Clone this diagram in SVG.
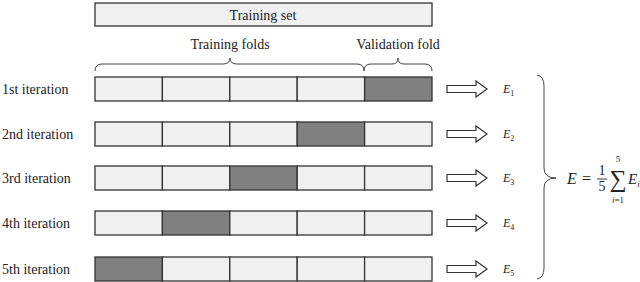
<svg xmlns="http://www.w3.org/2000/svg" width="640" height="282" viewBox="0 0 640 282">
<style>
text{font-family:"Times New Roman",Liberation Serif,"DejaVu Serif",serif;fill:#222}
.lbl{font-size:14px}
.cell{fill:#f0f0f0;stroke:#333;stroke-width:1.3}
.dark{fill:#808080;stroke:#333;stroke-width:1.3}
.br{fill:none;stroke:#444;stroke-width:1}
.arr{fill:#fff;stroke:#333;stroke-width:1.2}
.ei{font-size:12px;font-style:italic}
.sub{font-size:8px;font-style:normal}
</style>
<rect width="640" height="282" fill="#fff"/>
<g id="training-set">
<rect x="95" y="3" width="337" height="23" class="cell"/>
<text x="263" y="19.5" text-anchor="middle" class="lbl">Training set</text>
</g>
<g id="training-folds">
<text x="230" y="49" text-anchor="middle" class="lbl">Training folds</text>
<path class="br" d="M95,71 Q95,64 102,64 L223,64 Q230,64 230,58 Q230,64 237,64 L357,64 Q364,64 364,71"/>
</g>
<g id="validation-fold">
<text x="398" y="49" text-anchor="middle" class="lbl">Validation fold</text>
<path class="br" d="M364,71 Q364,64 371,64 L392,64 Q398,64 398,58 Q398,64 404,64 L425,64 Q432,64 432,71"/>
</g>
<g id="iter1">
<text x="2" y="94" class="lbl">1st iteration</text>
<rect x="95" y="77" width="67.4" height="24" class="cell"/>
<rect x="162.4" y="77" width="67.4" height="24" class="cell"/>
<rect x="229.8" y="77" width="67.4" height="24" class="cell"/>
<rect x="297.2" y="77" width="67.4" height="24" class="cell"/>
<rect x="364.6" y="77" width="67.4" height="24" class="dark"/>
</g>
<g id="iter2">
<text x="2" y="139" class="lbl">2nd iteration</text>
<rect x="95" y="122" width="67.4" height="24" class="cell"/>
<rect x="162.4" y="122" width="67.4" height="24" class="cell"/>
<rect x="229.8" y="122" width="67.4" height="24" class="cell"/>
<rect x="297.2" y="122" width="67.4" height="24" class="dark"/>
<rect x="364.6" y="122" width="67.4" height="24" class="cell"/>
</g>
<g id="iter3">
<text x="2" y="183" class="lbl">3rd iteration</text>
<rect x="95" y="166" width="67.4" height="24" class="cell"/>
<rect x="162.4" y="166" width="67.4" height="24" class="cell"/>
<rect x="229.8" y="166" width="67.4" height="24" class="dark"/>
<rect x="297.2" y="166" width="67.4" height="24" class="cell"/>
<rect x="364.6" y="166" width="67.4" height="24" class="cell"/>
</g>
<g id="iter4">
<text x="2" y="228" class="lbl">4th iteration</text>
<rect x="95" y="211" width="67.4" height="24" class="cell"/>
<rect x="162.4" y="211" width="67.4" height="24" class="dark"/>
<rect x="229.8" y="211" width="67.4" height="24" class="cell"/>
<rect x="297.2" y="211" width="67.4" height="24" class="cell"/>
<rect x="364.6" y="211" width="67.4" height="24" class="cell"/>
</g>
<g id="iter5">
<text x="2" y="274" class="lbl">5th iteration</text>
<rect x="95" y="257" width="67.4" height="24" class="dark"/>
<rect x="162.4" y="257" width="67.4" height="24" class="cell"/>
<rect x="229.8" y="257" width="67.4" height="24" class="cell"/>
<rect x="297.2" y="257" width="67.4" height="24" class="cell"/>
<rect x="364.6" y="257" width="67.4" height="24" class="cell"/>
</g>
<g id="connectors">
<polygon class="arr" points="447,85.5 476,85.5 476,81 487,89 476,97 476,92.5 447,92.5"/>
<polygon class="arr" points="447,130.5 476,130.5 476,126 487,134 476,142 476,137.5 447,137.5"/>
<polygon class="arr" points="447,174.5 476,174.5 476,170 487,178 476,186 476,181.5 447,181.5"/>
<polygon class="arr" points="447,219.5 476,219.5 476,215 487,223 476,231 476,226.5 447,226.5"/>
<polygon class="arr" points="447,265.5 476,265.5 476,261 487,269 476,277 476,272.5 447,272.5"/>
</g>
<g id="errors">
<text x="503" y="93" class="ei">E<tspan class="sub" dy="3">1</tspan></text>
<text x="503" y="138" class="ei">E<tspan class="sub" dy="3">2</tspan></text>
<text x="503" y="182" class="ei">E<tspan class="sub" dy="3">3</tspan></text>
<text x="503" y="227" class="ei">E<tspan class="sub" dy="3">4</tspan></text>
<text x="503" y="273" class="ei">E<tspan class="sub" dy="3">5</tspan></text>
</g>
<g id="average">
<path class="br" d="M537,75 Q544,76 544,86 L544,168 Q544,178 556,178 Q544,178 544,188 L544,268 Q544,278 537,279"/>
<text x="567" y="184" style="font-size:16px;font-style:italic">E</text>
<text x="582" y="184" style="font-size:16px">=</text>
<text x="602" y="175" text-anchor="middle" style="font-size:14px">1</text>
<line x1="597" y1="179" x2="607" y2="179" stroke="#222" stroke-width="0.9"/>
<text x="602" y="191" text-anchor="middle" style="font-size:14px">5</text>
<text x="618" y="187" text-anchor="middle" style="font-size:24px">∑</text>
<text x="618" y="162" text-anchor="middle" style="font-size:9px">5</text>
<text x="618" y="203" text-anchor="middle" style="font-size:9px"><tspan font-style="italic">i</tspan>=1</text>
<text x="628" y="184" style="font-size:15px;font-style:italic">E<tspan dy="3" style="font-size:9px">i</tspan></text>
</g>
</svg>
